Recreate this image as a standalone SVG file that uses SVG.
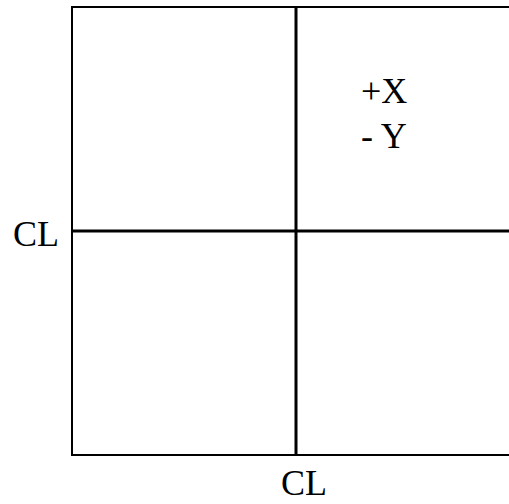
<svg xmlns="http://www.w3.org/2000/svg" width="509" height="504" viewBox="0 0 509 504">
<style>
.frame{stroke:#000;stroke-width:2;fill:none}
.cl{stroke:#000;stroke-width:3;fill:none}
text{font-family:"Liberation Serif","Times New Roman",serif;font-size:36px;fill:#000}
</style>
<rect width="509" height="504" fill="#fff"/>
<g id="frame">
<polyline class="frame" points="509,7 72,7 72,455 509,455"/>
</g>
<g id="connectors">
<line class="cl" x1="296" y1="7" x2="296" y2="455"/>
<line class="cl" x1="72" y1="231" x2="509" y2="231"/>
</g>
<g id="labels">
<text x="13" y="246">CL</text>
<text x="281" y="495">CL</text>
<text x="361" y="103">+X</text>
<text x="361" y="148">- Y</text>
</g>
</svg>
